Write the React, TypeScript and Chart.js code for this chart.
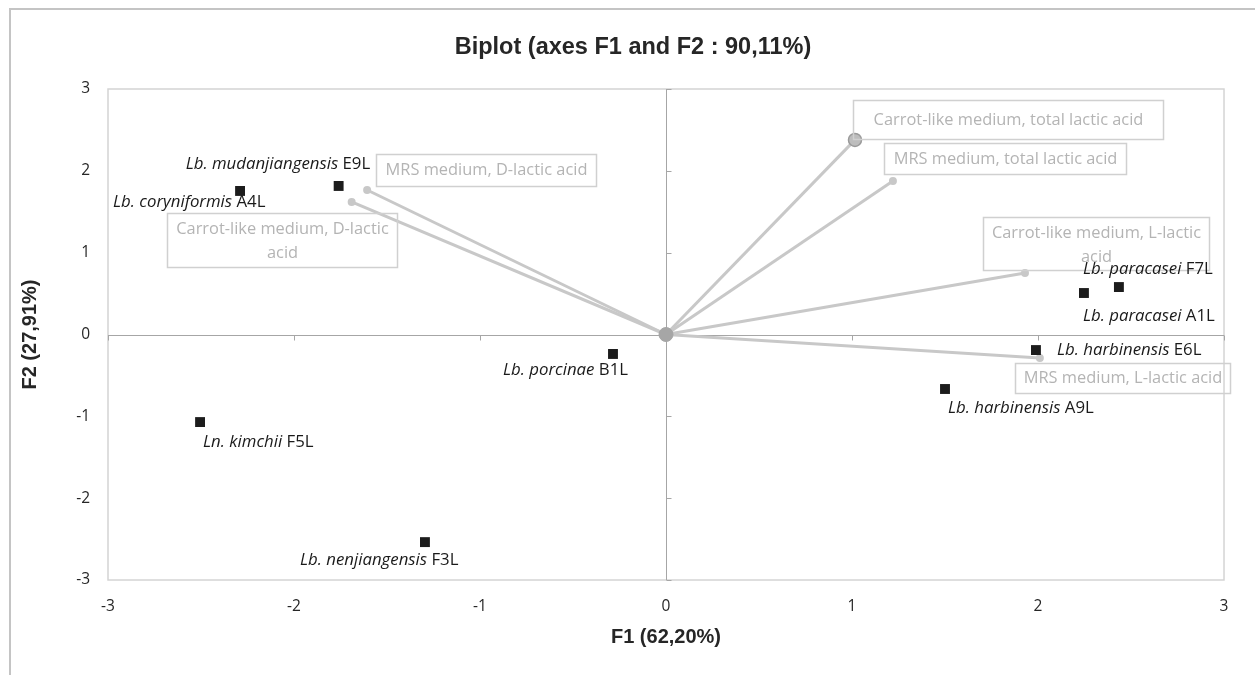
import React, { useEffect, useRef } from "react";
import { Chart, registerables } from "chart.js";

Chart.register(...registerables);

// ---- Data ----
const chartTitle = "Biplot (axes F1 and F2 : 90,11%)";
const xAxisTitle = "F1 (62,20%)";
const yAxisTitle = "F2 (27,91%)";
const axisTicks = [-3, -2, -1, 0, 1, 2, 3];

const obsSpecies = [
  "Lb. mudanjiangensis",
  "Lb. coryniformis",
  "Lb. porcinae",
  "Ln. kimchii",
  "Lb. nenjiangensis",
  "Lb. paracasei",
  "Lb. paracasei",
  "Lb. harbinensis",
  "Lb. harbinensis",
];
const obsStrain = ["E9L", "A4L", "B1L", "F5L", "F3L", "F7L", "A1L", "E6L", "A9L"];
const obsF1 = [-1.76, -2.29, -0.285, -2.505, -1.296, 2.435, 2.247, 1.989, 1.5];
const obsF2 = [1.815, 1.754, -0.238, -1.07, -2.537, 0.58, 0.507, -0.19, -0.666];

const varNames = [
  ["Carrot-like medium, total lactic acid"],
  ["MRS medium, total lactic acid"],
  ["Carrot-like medium, L-lactic", "acid"],
  ["MRS medium, L-lactic acid"],
  ["MRS medium, D-lactic acid"],
  ["Carrot-like medium, D-lactic", "acid"],
];
const varF1 = [1.016, 1.22, 1.93, 2.01, -1.607, -1.69];
const varF2 = [2.378, 1.877, 0.752, -0.287, 1.766, 1.62];

// ---- Styles (pixel offsets of labels relative to their marks) ----
// species label: [dx of text left edge, dy of text middle]
const obsLabelOffset = [
  [-153, -22],
  [-127, 11],
  [-110, 16],
  [3, 20],
  [-125, 18],
  [-36, -18],
  [-1, 23],
  [21, 0],
  [3, 19],
];
// variable box: [dx, dy, width, height] relative to vector tip
const varBox = [
  [-2, -40, 310, 39],
  [-9, -38, 242, 31],
  [-42, -56, 226, 53],
  [-25, 5, 215, 30],
  [9, -36, 220, 32],
  [-185, 11, 230, 54],
];
const varBigTip = [true, false, false, false, false, false];

const LABEL_FONT = '"Open Sans", "Noto Sans", sans-serif';
const TITLE_FONT = '"Liberation Sans", Arial, sans-serif';
const VEC_COLOR = "#c8c8c8";

const decorPlugin = {
  id: "decor",
  beforeDraw(chart: any) {
    const ctx = chart.ctx;
    ctx.save();
    ctx.fillStyle = "#ffffff";
    ctx.fillRect(0, 0, chart.width, chart.height);
    ctx.strokeStyle = "#c4c4c4";
    ctx.lineWidth = 2;
    ctx.beginPath();
    ctx.moveTo(10, chart.height);
    ctx.lineTo(10, 9);
    ctx.lineTo(chart.width - 1, 9);
    ctx.stroke();
    ctx.restore();
  },
  beforeDatasetsDraw(chart: any) {
    const ctx = chart.ctx;
    const a = chart.chartArea;
    const xs = chart.scales.x;
    const ys = chart.scales.y;
    ctx.save();
    ctx.strokeStyle = "#d4d4d4";
    ctx.lineWidth = 1.5;
    ctx.strokeRect(a.left, a.top, a.right - a.left, a.bottom - a.top);
    const x0 = Math.round(xs.getPixelForValue(0)) + 0.5;
    const y0 = Math.round(ys.getPixelForValue(0)) + 0.5;
    ctx.strokeStyle = "#a6a6a6";
    ctx.lineWidth = 1;
    ctx.beginPath();
    ctx.moveTo(x0, a.top);
    ctx.lineTo(x0, a.bottom);
    ctx.moveTo(a.left, y0);
    ctx.lineTo(a.right, y0);
    axisTicks.forEach((t) => {
      const py = Math.round(ys.getPixelForValue(t)) + 0.5;
      ctx.moveTo(x0, py);
      ctx.lineTo(x0 + 5, py);
      const px = Math.round(xs.getPixelForValue(t)) + 0.5;
      ctx.moveTo(px, y0);
      ctx.lineTo(px, y0 + 5);
    });
    ctx.stroke();
    ctx.restore();
  },
  afterDatasetsDraw(chart: any) {
    const ctx = chart.ctx;
    const xs = chart.scales.x;
    const ys = chart.scales.y;
    ctx.save();
    // variable boxes
    varNames.forEach((lines, i) => {
      const px = xs.getPixelForValue(varF1[i]);
      const py = ys.getPixelForValue(varF2[i]);
      const [dx, dy, w, h] = varBox[i];
      const bx = Math.round(px + dx) + 0.5;
      const by = Math.round(py + dy) + 0.5;
      ctx.strokeStyle = "#d0d0d0";
      ctx.lineWidth = 1.5;
      ctx.strokeRect(bx, by, w, h);
      ctx.fillStyle = "#b4b4b4";
      ctx.font = `16.4px ${LABEL_FONT}`;
      ctx.textAlign = "center";
      ctx.textBaseline = "middle";
      if (lines.length === 1) {
        ctx.fillText(lines[0], bx + w / 2, by + h / 2);
      } else {
        ctx.fillText(lines[0], bx + w / 2, by + 16);
        ctx.fillText(lines[1], bx + w / 2, by + 40);
      }
    });
    // species labels
    ctx.fillStyle = "#1a1a1a";
    ctx.textAlign = "left";
    ctx.textBaseline = "middle";
    obsSpecies.forEach((sp, i) => {
      const px = xs.getPixelForValue(obsF1[i]);
      const py = ys.getPixelForValue(obsF2[i]);
      const [dx, dy] = obsLabelOffset[i];
      let tx = px + dx;
      const ty = py + dy;
      ctx.font = `italic 16.8px ${LABEL_FONT}`;
      ctx.fillText(sp, tx, ty);
      tx += ctx.measureText(sp + " ").width;
      ctx.font = `16.8px ${LABEL_FONT}`;
      ctx.fillText(obsStrain[i], tx, ty);
    });
    ctx.restore();
  },
  afterDraw(chart: any) {
    const ctx = chart.ctx;
    const a = chart.chartArea;
    ctx.save();
    ctx.fillStyle = "#262626";
    ctx.textAlign = "center";
    ctx.textBaseline = "middle";
    ctx.font = `bold 23.5px ${TITLE_FONT}`;
    ctx.fillText(chartTitle, 633, 48);
    ctx.font = `bold 20px ${TITLE_FONT}`;
    ctx.fillText(xAxisTitle, (a.left + a.right) / 2, 637);
    ctx.translate(30, (a.top + a.bottom) / 2);
    ctx.rotate(-Math.PI / 2);
    ctx.fillText(yAxisTitle, 0, 0);
    ctx.restore();
  },
};

export default function App() {
  const canvasRef = useRef<HTMLCanvasElement | null>(null);

  useEffect(() => {
    document.body.style.margin = "0";
    const canvas = canvasRef.current;
    if (!canvas) return;

    const vectorDatasets = varNames.map((_, i) => ({
      type: "scatter" as const,
      data: [
        { x: 0, y: 0 },
        { x: varF1[i], y: varF2[i] },
      ],
      showLine: true,
      borderColor: VEC_COLOR,
      borderWidth: 3,
      backgroundColor: varBigTip[i] ? "#bdbdbd" : VEC_COLOR,
      pointBorderColor: varBigTip[i] ? "#9a9a9a" : VEC_COLOR,
      pointBorderWidth: varBigTip[i] ? 1.5 : 0,
      pointRadius: [0, varBigTip[i] ? 6.5 : 4],
      order: 3,
    }));

    const chart = new Chart(canvas, {
      type: "scatter",
      data: {
        datasets: [
          ...vectorDatasets,
          {
            type: "scatter",
            data: [{ x: 0, y: 0 }],
            backgroundColor: "#a6a6a6",
            borderColor: "#a6a6a6",
            pointRadius: 7,
            order: 2,
          },
          {
            type: "scatter",
            data: obsF1.map((x, i) => ({ x, y: obsF2[i] })),
            pointStyle: "rect",
            pointRadius: 7,
            backgroundColor: "#1c1c1c",
            borderColor: "#1c1c1c",
            borderWidth: 0,
            order: 1,
          },
        ] as any,
      },
      options: {
        responsive: false,
        devicePixelRatio: 1,
        animation: false,
        events: [],
        layout: { padding: { top: 89, right: 32, left: 0, bottom: 0 } },
        plugins: {
          legend: { display: false },
          title: { display: false },
          tooltip: { enabled: false },
        },
        scales: {
          x: {
            type: "linear",
            min: -3,
            max: 3,
            afterFit: (s: any) => {
              s.height = 95;
            },
            afterBuildTicks: (s: any) => {
              s.ticks = axisTicks.map((v) => ({ value: v }));
            },
            grid: { display: false, drawTicks: false },
            border: { display: false },
            ticks: {
              padding: 17,
              color: "#262626",
              font: { family: LABEL_FONT, size: 15.5 },
            },
          },
          y: {
            type: "linear",
            min: -3,
            max: 3,
            afterFit: (s: any) => {
              s.width = 108;
            },
            afterBuildTicks: (s: any) => {
              s.ticks = axisTicks.map((v) => ({ value: v }));
            },
            grid: { display: false, drawTicks: false },
            border: { display: false },
            ticks: {
              padding: 18,
              color: "#262626",
              font: { family: LABEL_FONT, size: 15.5 },
            },
          },
        },
      },
      plugins: [decorPlugin],
    } as any);

    return () => chart.destroy();
  }, []);

  return (
    <div style={{ width: 1256, height: 675 }}>
      <canvas ref={canvasRef} width={1256} height={675} style={{ display: "block" }} />
    </div>
  );
}
